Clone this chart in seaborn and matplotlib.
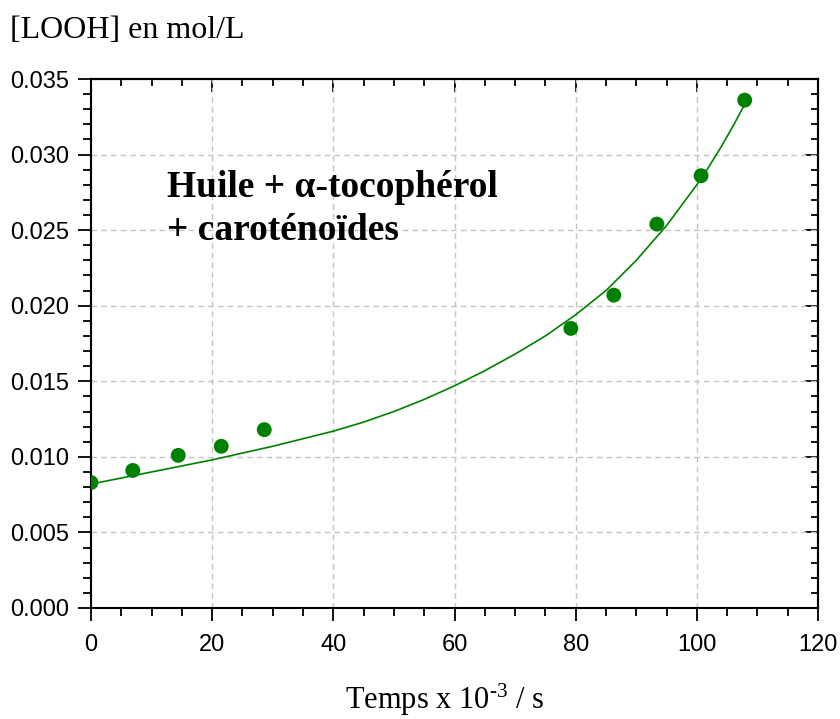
import numpy as np
import pandas as pd
import matplotlib
matplotlib.use('Agg')
import matplotlib.pyplot as plt
import seaborn as sns
from matplotlib.ticker import MultipleLocator, FormatStrFormatter

sns.set_style('ticks')
plt.rcParams['font.family'] = ['Liberation Sans', 'DejaVu Sans']
plt.rcParams['text.color'] = 'black'
plt.rcParams['xtick.color'] = 'black'
plt.rcParams['ytick.color'] = 'black'
plt.rcParams['mathtext.fontset'] = 'custom'
plt.rcParams['mathtext.rm'] = 'Liberation Serif'
plt.rcParams['mathtext.it'] = 'Liberation Serif:italic'

# mesures [LOOH] (mol/L) en fonction du temps (x 10^-3 s)
temps = [0.0, 6.9, 14.4, 21.5, 28.6, 79.2, 86.3, 93.4, 100.7, 107.9]
looh = [0.0083, 0.0091, 0.0101, 0.0107, 0.0118, 0.0185, 0.0207, 0.0254, 0.0286, 0.0336]

# courbe d'ajustement
temps_fit = [0, 5, 10, 15, 20, 25, 30, 35, 40, 45, 50, 55, 60, 65, 70, 75, 80,
             85, 90, 95, 100, 102, 104, 106, 108]
looh_fit = [0.0082, 0.0086, 0.0090, 0.0094, 0.0098, 0.01025, 0.0107, 0.0112, 0.0117,
            0.0123, 0.0130, 0.0138, 0.0147, 0.0157, 0.0168, 0.0180, 0.0194,
            0.0210, 0.0230, 0.0253, 0.0280, 0.0292, 0.0305, 0.0319, 0.0334]

df = pd.DataFrame({'temps': temps, 'looh': looh})
df_fit = pd.DataFrame({'temps': temps_fit, 'looh': looh_fit})

vert = '#008000'

fig = plt.figure(figsize=(8.4, 7.19), dpi=100)
ax = fig.add_axes([91/840, 1 - 608/719, (818 - 91)/840, (608 - 79)/719])

sns.lineplot(data=df_fit, x='temps', y='looh', color=vert, lw=1.2, ax=ax)
sns.scatterplot(data=df, x='temps', y='looh', color=vert, s=115, edgecolor='none', ax=ax, zorder=3)

ax.set_xlim(0, 120)
ax.set_ylim(0, 0.035)
ax.xaxis.set_major_locator(MultipleLocator(20))
ax.xaxis.set_minor_locator(MultipleLocator(5))
ax.yaxis.set_major_locator(MultipleLocator(0.005))
ax.yaxis.set_minor_locator(MultipleLocator(0.001))
ax.yaxis.set_major_formatter(FormatStrFormatter('%.3f'))
ax.set_xlabel('')
ax.set_ylabel('')

ax.grid(True, which='major', color='#c4c4c4', ls=(0, (4, 3)), lw=1)
for s in ax.spines.values():
    s.set_visible(True)
    s.set_linewidth(1.5)
    s.set_color('black')

ax.tick_params(which='major', direction='out', length=9.5, width=1.3, labelsize=17, pad=6)
ax.tick_params(which='minor', direction='out', length=5.5, width=1.3)
ax.tick_params(axis='x', which='major', pad=9)

# ticks internes en haut et a droite
top = ax.secondary_xaxis('top')
top.xaxis.set_major_locator(MultipleLocator(20))
top.xaxis.set_minor_locator(MultipleLocator(5))
top.tick_params(which='major', direction='in', length=9.5, width=1.3, labeltop=False)
top.tick_params(which='minor', direction='in', length=5, width=1.3)
top.spines['top'].set_linewidth(1.5)
right = ax.secondary_yaxis('right')
right.yaxis.set_major_locator(MultipleLocator(0.005))
right.yaxis.set_minor_locator(MultipleLocator(0.001))
right.tick_params(which='major', direction='in', length=9.5, width=1.3, labelright=False)
right.tick_params(which='minor', direction='in', length=5, width=1.3)
right.spines['right'].set_linewidth(1.5)

ax.text(12.6, 0.0290, 'Huile + α-tocophérol\n+ caroténoïdes', family=['Liberation Serif', 'DejaVu Serif'],
        fontsize=27, fontweight='bold', va='top', ha='left', linespacing=1.3)

fig.text(10/840, 1 - 30/719, '[LOOH] en mol/L', family='Liberation Serif', fontsize=23,
         va='center', ha='left')
fig.text(445/840, 1 - 700/719, 'Temps x 10$^{\u20103}$ / s', family='Liberation Serif', fontsize=22,
         va='center', ha='center')

fig.savefig('out.png', dpi=100)
